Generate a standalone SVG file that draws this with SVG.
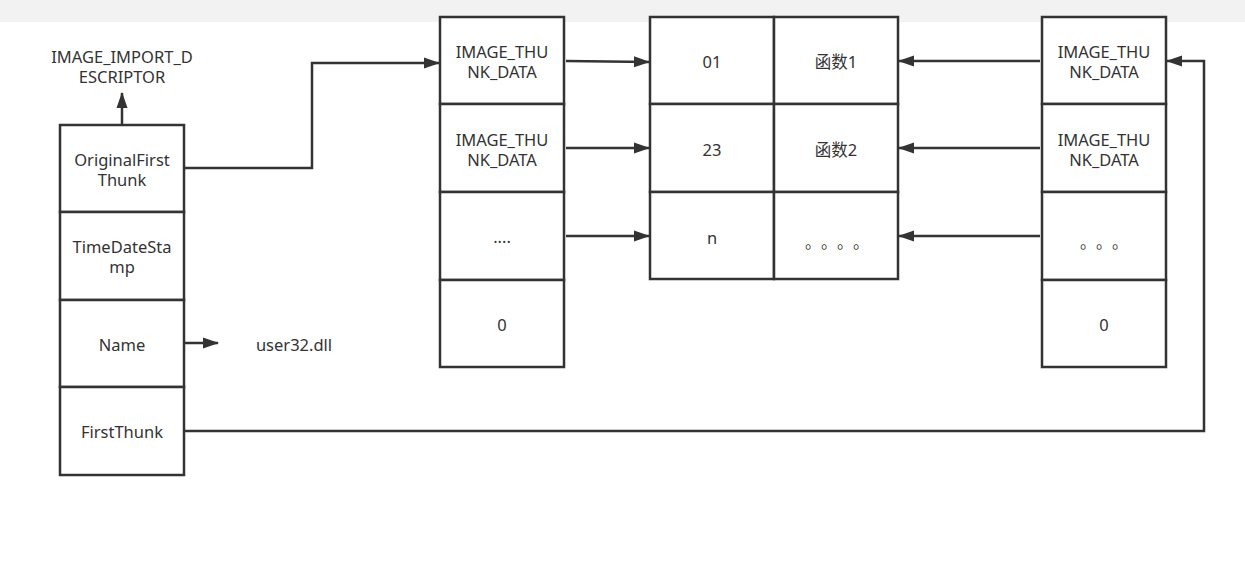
<svg xmlns="http://www.w3.org/2000/svg" width="1245" height="568" viewBox="0 0 1245 568">
<defs>
<marker id="ah" markerWidth="16" markerHeight="12" refX="15" refY="6" orient="auto" markerUnits="userSpaceOnUse">
<path d="M0,0.5 L16,6 L0,11.5 Z" fill="#333"/>
</marker>
<style>
.b{fill:#fff;stroke:#333;stroke-width:2.5}
.t{font-family:"Noto Sans","Noto Sans CJK SC",sans-serif;font-size:16.5px;fill:#333;text-anchor:middle}
.d{font-family:"Noto Sans CJK SC",sans-serif;font-size:16px;fill:#333;letter-spacing:8px}
.c{fill:none;stroke:#333;stroke-width:2.5;marker-end:url(#ah)}
</style>
</defs>
<rect x="0" y="0" width="1245" height="568" fill="#fff"/>
<rect x="0" y="0" width="1245" height="22" fill="#f2f2f2"/>
<g id="label-descriptor"><text class="t" x="122" y="63">IMAGE_IMPORT_D<tspan x="122" dy="20">ESCRIPTOR</tspan></text></g>
<g id="desc-oft"><rect class="b" x="60" y="125" width="124" height="87"/><text class="t" x="122" y="166">OriginalFirst<tspan x="122" dy="20">Thunk</tspan></text></g>
<g id="desc-tds"><rect class="b" x="60" y="212" width="124" height="88"/><text class="t" x="122" y="253">TimeDateSta<tspan x="122" dy="20">mp</tspan></text></g>
<g id="desc-name"><rect class="b" x="60" y="300" width="124" height="87"/><text class="t" x="122" y="351">Name</text></g>
<g id="desc-ft"><rect class="b" x="60" y="387" width="124" height="88"/><text class="t" x="122" y="438">FirstThunk</text></g>
<g id="label-user32"><text class="t" x="294" y="351">user32.dll</text></g>
<g id="int-1"><rect class="b" x="440" y="17" width="124" height="87"/><text class="t" x="502" y="58">IMAGE_THU<tspan x="502" dy="20">NK_DATA</tspan></text></g>
<g id="int-2"><rect class="b" x="440" y="104" width="124" height="88"/><text class="t" x="502" y="146">IMAGE_THU<tspan x="502" dy="20">NK_DATA</tspan></text></g>
<g id="int-3"><rect class="b" x="440" y="192" width="124" height="88"/><text class="t" x="502" y="243">....</text></g>
<g id="int-4"><rect class="b" x="440" y="280" width="124" height="87"/><text class="t" x="502" y="331">0</text></g>
<g id="tbl-01"><rect class="b" x="650" y="17" width="124" height="87"/><text class="t" x="712" y="68">01</text></g>
<g id="tbl-f1"><rect class="b" x="774" y="17" width="124" height="87"/><text class="t" x="836" y="68">函数1</text></g>
<g id="tbl-23"><rect class="b" x="650" y="104" width="124" height="88"/><text class="t" x="712" y="156">23</text></g>
<g id="tbl-f2"><rect class="b" x="774" y="104" width="124" height="88"/><text class="t" x="836" y="156">函数2</text></g>
<g id="tbl-n"><rect class="b" x="650" y="192" width="124" height="87"/><text class="t" x="712" y="244">n</text></g>
<g id="tbl-dots"><rect class="b" x="774" y="192" width="124" height="87"/><text class="d" x="805" y="248">。。。。</text></g>
<g id="iat-1"><rect class="b" x="1042" y="17" width="124" height="87"/><text class="t" x="1104" y="58">IMAGE_THU<tspan x="1104" dy="20">NK_DATA</tspan></text></g>
<g id="iat-2"><rect class="b" x="1042" y="104" width="124" height="88"/><text class="t" x="1104" y="146">IMAGE_THU<tspan x="1104" dy="20">NK_DATA</tspan></text></g>
<g id="iat-3"><rect class="b" x="1042" y="192" width="124" height="88"/><text class="d" x="1080" y="248">。。。</text></g>
<g id="iat-4"><rect class="b" x="1042" y="280" width="124" height="87"/><text class="t" x="1104" y="331">0</text></g>
<g id="connectors">
<path class="c" d="M122,125 L122,93"/>
<path class="c" d="M184,168 L312,168 L312,63 L439,63"/>
<path class="c" d="M184,343 L218,343"/>
<path class="c" d="M566,61 L649,62"/>
<path class="c" d="M566,148 L649,148"/>
<path class="c" d="M566,236 L649,236"/>
<path class="c" d="M1040,61 L899,61"/>
<path class="c" d="M1040,148 L899,148"/>
<path class="c" d="M1040,236 L899,236"/>
<path class="c" d="M184,431 L1204,431 L1204,61 L1167,61"/>
</g>
</svg>
